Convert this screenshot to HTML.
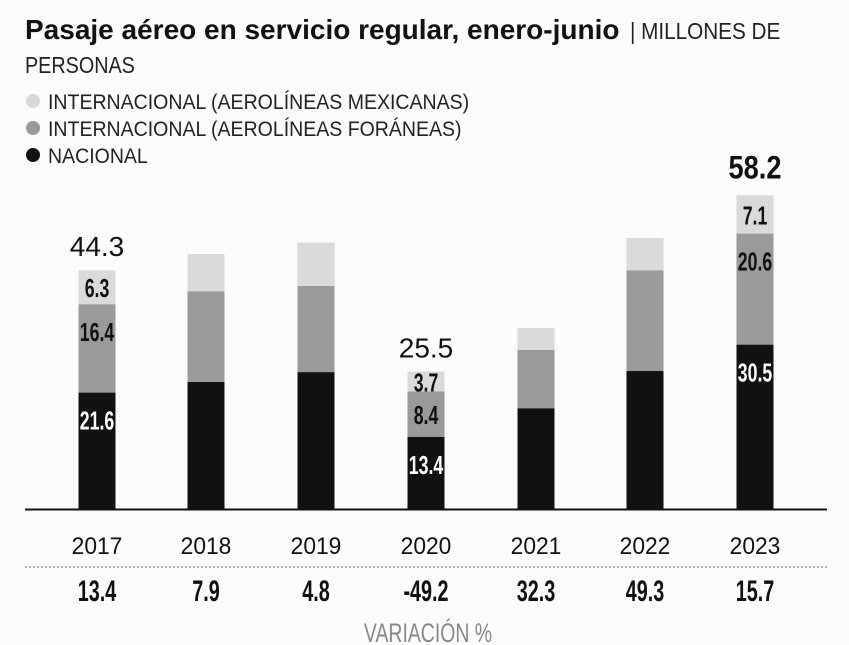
<!DOCTYPE html>
<html><head><meta charset="utf-8"><style>
body{margin:0;background:#fbfbfb;}
svg{display:block;font-family:"Liberation Sans",sans-serif;}
</style></head><body>
<svg width="849" height="645" viewBox="0 0 849 645">
<rect width="849" height="645" fill="#fbfbfb"/>
<text x="25" y="39"><tspan font-size="28" font-weight="bold" fill="#111">Pasaje aéreo en servicio regular, enero-junio</tspan></text>
<text transform="translate(630,39) scale(0.9,1)" font-size="23" fill="#222">| MILLONES DE</text>
<text transform="translate(25,73) scale(0.86,1)" font-size="23" fill="#222">PERSONAS</text>
<g>
<circle cx="33" cy="101" r="7" fill="#d8d8d8"/>
<text transform="translate(48,109) scale(0.93,1)" font-size="21" fill="#222">INTERNACIONAL (AEROLÍNEAS MEXICANAS)</text>
<circle cx="33" cy="128" r="7" fill="#999"/>
<text transform="translate(48,136) scale(0.93,1)" font-size="21" fill="#222">INTERNACIONAL (AEROLÍNEAS FORÁNEAS)</text>
<circle cx="33" cy="155" r="7" fill="#111"/>
<text transform="translate(48,163) scale(0.93,1)" font-size="21" fill="#222">NACIONAL</text>
</g>
<g id="bars"></g>
<line x1="25" y1="509.5" x2="827" y2="509.5" stroke="#111" stroke-width="2"/>
<line x1="25" y1="567" x2="827" y2="567" stroke="#999" stroke-width="1.5" stroke-dasharray="2,2"/>
<text transform="translate(428,642) scale(0.72,1)" font-size="27" fill="#888" text-anchor="middle">VARIACIÓN %</text>
</svg>
<script>
const years=["2017","2018","2019","2020","2021","2022","2023"];
const nacional=[21.6,23.6,25.4,13.4,18.7,25.6,30.5];
const foraneas=[16.4,16.8,16.0,8.4,10.8,18.7,20.6];
const mexicanas=[6.3,6.9,8.0,3.7,4.1,6.0,7.1];
const labeled=[true,false,false,true,false,false,true];
const totals=["44.3","","","25.5","","","58.2"];
const variacion=["13.4","7.9","4.8","-49.2","32.3","49.3","15.7"];
const NS="http://www.w3.org/2000/svg";
const g=document.getElementById('bars');
const base=509, k=5.39, bw=37;
const xc=[97,206,316,426,536,645,755];
function y(v){return base-v*k;}
function mk(tag,attrs){const e=document.createElementNS(NS,tag);for(const a in attrs)e.setAttribute(a,attrs[a]);g.appendChild(e);return e;}
years.forEach((yr,i)=>{
  const segs=[[nacional[i],'#111','#fff','nacional'],[foraneas[i],'#9a9a9a','#111','foraneas'],[mexicanas[i],'#dadada','#111','mexicanas']];
  let acc=0;
  segs.forEach(s=>{
    const top=y(acc+s[0]), bot=y(acc);
    const r=mk('rect',{x:xc[i]-bw/2,y:top,width:bw,height:bot-top,fill:s[1]});
    
    
    if(labeled[i]){
      const h=bot-top;
      const ty=top+Math.min(h/2+10,37);
      const t=mk('text',{transform:'translate('+xc[i]+','+ty+') scale(0.68,1)','font-size':26,'font-weight':'bold',fill:s[2],'text-anchor':'middle'});
      t.textContent=s[0].toFixed(1);
      
      
    }
    acc+=s[0];
  });
  if(totals[i]){
    const big=i===6;
    const t=mk('text',{transform:'translate('+xc[i]+','+(y(acc)-(big?17:14))+') scale('+(big?0.85:1)+',1)','font-size':big?32:28,'font-weight':big?'bold':'normal',fill:'#111','text-anchor':'middle'});
    t.textContent=totals[i];
    
    
  }
  const yl=mk('text',{transform:'translate('+xc[i]+',554) scale(0.95,1)','font-size':24,fill:'#111','text-anchor':'middle'});
  yl.textContent=yr;
  
  
  const vl=mk('text',{transform:'translate('+xc[i]+',601) scale(0.66,1)','font-size':30,'font-weight':'bold',fill:'#111','text-anchor':'middle'});
  vl.textContent=variacion[i];
  
  
});
</script>
</body></html>
